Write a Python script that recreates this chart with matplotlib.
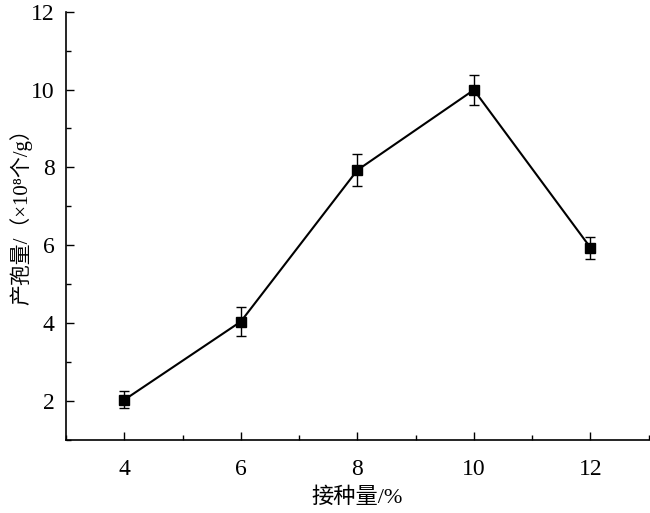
import numpy as np
import matplotlib
matplotlib.use("Agg")
import matplotlib.pyplot as plt
from matplotlib.ticker import MultipleLocator

# inoculum amount (%) vs spore yield (x10^8 per g)
inoculum = [4, 6, 8, 10, 12]
spores = [2.03, 4.04, 7.93, 9.99, 5.94]
spores_err = [0.22, 0.37, 0.41, 0.39, 0.28]

plt.rcParams['font.family'] = ['Liberation Serif', 'Noto Sans CJK SC', 'DejaVu Serif']

fig = plt.figure(figsize=(6.5, 5.13), dpi=100)
ax = fig.add_axes([0.1015, 0.1423, 0.8965, 0.835])

ax.errorbar(inoculum, spores, yerr=spores_err, color='black', marker='s',
            markersize=6.5, linewidth=1.5, elinewidth=1.0, capsize=3.5, capthick=1.0)

ax.set_xlim(3, 13)
ax.set_ylim(1, 12)
ax.set_xticks([4, 6, 8, 10, 12])
ax.set_yticks([2, 4, 6, 8, 10, 12])
ax.xaxis.set_minor_locator(MultipleLocator(1))
ax.yaxis.set_minor_locator(MultipleLocator(1))
ax.tick_params(which='both', direction='in', labelsize=17, width=1.0)
ax.tick_params(which='major', length=5.5, pad=8)
ax.tick_params(axis='x', which='major', pad=14)
ax.tick_params(which='minor', length=3.5)

ax.spines['top'].set_visible(False)
ax.spines['right'].set_visible(False)
ax.spines['left'].set_linewidth(1.2)
ax.spines['bottom'].set_linewidth(1.2)

ax.set_xlabel('接种量/%', fontsize=16, labelpad=5)
ax.set_ylabel('产孢量/（×10⁸个/g）', fontsize=15)
ax.yaxis.set_label_coords(-0.058, 0.533)

fig.savefig('out.png', dpi=100)
